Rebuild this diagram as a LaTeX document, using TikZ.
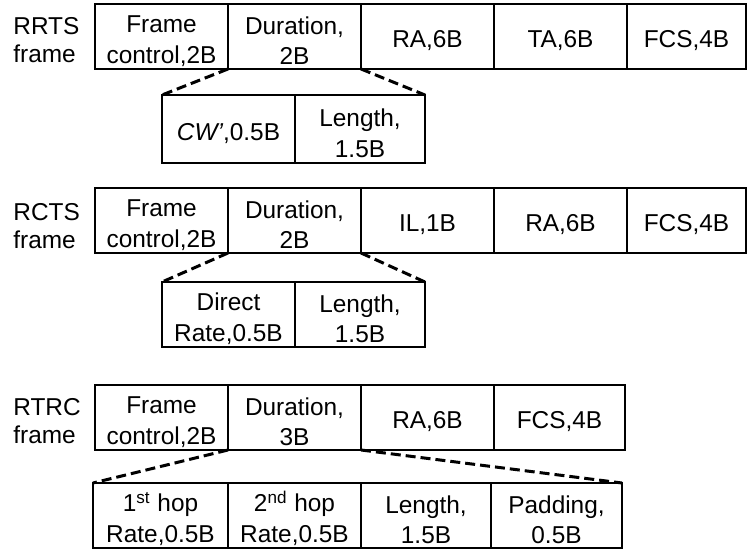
\documentclass[tikz,border=0pt]{standalone}
\usepackage{fontspec}
\setmainfont{Liberation Sans}
\usetikzlibrary{positioning}
\newcommand{\topgap}{\rule{0pt}{13pt}}

\begin{document}
\begin{tikzpicture}[x=0.5pt, y=-0.5pt,
  field/.style={draw, line width=0.65pt, minimum width=66.5pt, minimum height=32.5pt, inner sep=0pt, outer sep=0pt, align=center, font=\fontsize{12.2}{15.2}\selectfont},
  subfield/.style={field, minimum height=34pt},
  framelbl/.style={anchor=west, align=left, inner sep=0pt, font=\fontsize{12.2}{14.2}\selectfont},
  zoomline/.style={line width=1.5pt, dash pattern=on 5pt off 2.5pt},
]
\useasboundingbox (0,0) rectangle (747,549);
\node[framelbl] (l1) at (13,40) {RRTS\\frame};
\node[field, anchor=north west] (fc1) at (95,4) {\topgap Frame\\control,2B};
\node[field, right=0pt of fc1] (du1) {\topgap Duration,\\2B};
\node[field, right=0pt of du1] (ra1) {\topgap RA,6B};
\node[field, right=0pt of ra1] (ta1) {\topgap TA,6B};
\node[field, right=0pt of ta1, minimum width=59.5pt] (fcs1) {\topgap FCS,4B};
\node[subfield, anchor=north west] (cw1) at (162,95) {\topgap\textit{CW’},0.5B};
\node[subfield, right=0pt of cw1, minimum width=65pt] (len1) {\topgap Length,\\1.5B};
\draw[zoomline] (du1.south west) -- (cw1.north west);
\draw[zoomline] (du1.south east) -- (len1.north east);

\node[framelbl] (l2) at (13,226) {RCTS\\frame};
\node[field, anchor=north west] (fc2) at (95,188) {\topgap Frame\\control,2B};
\node[field, right=0pt of fc2] (du2) {\topgap Duration,\\2B};
\node[field, right=0pt of du2] (il2) {\topgap IL,1B};
\node[field, right=0pt of il2] (ra2) {\topgap RA,6B};
\node[field, right=0pt of ra2, minimum width=59.5pt] (fcs2) {\topgap FCS,4B};
\node[subfield, anchor=north west, minimum height=32.5pt] (dr2) at (162,282) {\topgap Direct\\Rate,0.5B};
\node[subfield, right=0pt of dr2, minimum width=65pt, minimum height=32.5pt] (len2) {\topgap Length,\\1.5B};
\draw[zoomline] (du2.south west) -- (dr2.north west);
\draw[zoomline] (du2.south east) -- (len2.north east);

\node[framelbl] (l3) at (13,421) {RTRC\\frame};
\node[field, anchor=north west] (fc3) at (95,385) {\topgap Frame\\control,2B};
\node[field, right=0pt of fc3] (du3) {\topgap Duration,\\3B};
\node[field, right=0pt of du3] (ra3) {\topgap RA,6B};
\node[field, right=0pt of ra3, minimum width=65.5pt] (fcs3) {\topgap FCS,4B};
\node[subfield, anchor=north west, minimum width=67.5pt, minimum height=32.5pt] (hop1) at (93,483) {\topgap 1\textsuperscript{st} hop\\Rate,0.5B};
\node[subfield, right=0pt of hop1, minimum height=32.5pt] (hop2) {\topgap 2\textsuperscript{nd} hop\\Rate,0.5B};
\node[subfield, right=0pt of hop2, minimum width=65pt, minimum height=32.5pt] (len3) {\topgap Length,\\1.5B};
\node[subfield, right=0pt of len3, minimum width=65.5pt, minimum height=32.5pt] (pad3) {\topgap Padding,\\0.5B};
\draw[zoomline] (du3.south west) -- (hop1.north west);
\draw[zoomline] (du3.south east) -- (pad3.north east);
\end{tikzpicture}
\end{document}
